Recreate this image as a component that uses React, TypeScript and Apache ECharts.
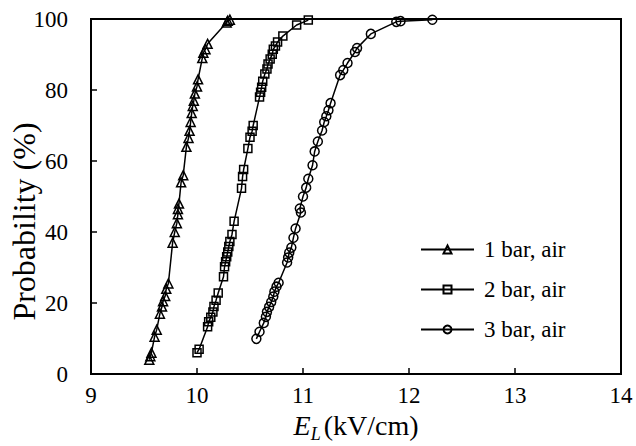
import React, { useEffect, useRef } from "react";
import * as echarts from "echarts";

const seriesNames = ["1 bar, air", "2 bar, air", "3 bar, air"];
const symbols = ["triangle", "rect", "circle"];
const symbolSizes = [9, 8, 9];

const bar1: [number, number][] = [
  [9.55, 4], [9.56, 5], [9.57, 6], [9.6, 10.5], [9.62, 12.5], [9.65, 17], [9.67, 19],
  [9.68, 20.5], [9.7, 22], [9.71, 24], [9.73, 25.5], [9.77, 37], [9.79, 40], [9.81, 42.5],
  [9.82, 45], [9.82, 46.5], [9.83, 48], [9.85, 54], [9.87, 56], [9.9, 64], [9.92, 66.5],
  [9.93, 68.5], [9.94, 71], [9.95, 73.5], [9.96, 75.5], [9.97, 77], [9.98, 79], [10.0, 81],
  [10.01, 83], [10.05, 89], [10.06, 90.5], [10.08, 91.5], [10.1, 93], [10.28, 99],
  [10.29, 99.5], [10.31, 99.8],
];

const bar2: [number, number][] = [
  [10.0, 6], [10.02, 7], [10.1, 13.3], [10.11, 14.7], [10.13, 16], [10.15, 17.5], [10.16, 19],
  [10.18, 20.8], [10.2, 22.8], [10.25, 27.4], [10.26, 30.2], [10.27, 31.6], [10.28, 33],
  [10.29, 34.4], [10.3, 35.9], [10.31, 37.3], [10.33, 39.3], [10.35, 43], [10.42, 52.3],
  [10.43, 55.6], [10.44, 57.6], [10.48, 63.5], [10.5, 66.7], [10.52, 68.4], [10.53, 70],
  [10.59, 78], [10.6, 79.4], [10.61, 80.8], [10.62, 82.5], [10.64, 84.5], [10.66, 85.9],
  [10.67, 87.3], [10.69, 88.7], [10.71, 90.1], [10.72, 91.5], [10.74, 92.4], [10.76, 93.5],
  [10.81, 95.2], [10.94, 98.3], [11.05, 99.7],
];

const bar3: [number, number][] = [
  [10.56, 9.9], [10.59, 11.9], [10.63, 14.4], [10.65, 16.1], [10.66, 17.5], [10.68, 18.9],
  [10.7, 20.3], [10.72, 21.8], [10.73, 23.2], [10.75, 24.6], [10.77, 25.7], [10.85, 31.4],
  [10.86, 32.8], [10.87, 34.2], [10.89, 35.6], [10.91, 38.4], [10.93, 41], [10.98, 45.5],
  [10.97, 46.6], [11.0, 50], [11.03, 52.5], [11.05, 55], [11.09, 58.8], [11.11, 62.7],
  [11.14, 65.5], [11.18, 68.6], [11.2, 71], [11.22, 72.6], [11.24, 74.3], [11.26, 76.3],
  [11.35, 84.2], [11.38, 85.6], [11.42, 87.6], [11.49, 90.7], [11.51, 91.8], [11.64, 95.8],
  [11.88, 99.2], [11.92, 99.4], [12.22, 99.8],
];

const allData = [bar1, bar2, bar3];
const xTicks = { min: 9, max: 14, interval: 1 };
const yTicks = { min: 0, max: 100, interval: 20 };

const FONT = "Liberation Serif";

export default function App() {
  const ref = useRef<HTMLDivElement>(null);
  useEffect(() => {
    if (!ref.current) return;
    const chart = echarts.init(ref.current, undefined, { renderer: "svg" });
    chart.setOption({
      animation: false,
      backgroundColor: "#fff",
      textStyle: { fontFamily: FONT, color: "#000" },
      grid: {
        left: 91, right: 15, top: 19, bottom: 72,
        outerBoundsMode: "none",
        containLabel: false,
        show: true, borderColor: "#000", borderWidth: 2, backgroundColor: "transparent",
      },
      legend: {
        orient: "vertical",
        left: 415,
        top: 233,
        itemWidth: 53,
        itemHeight: 10,
        itemGap: 17,
        data: seriesNames,
        textStyle: { fontFamily: FONT, fontSize: 23, color: "#000", padding: [0, 0, 0, 5] },
      },
      xAxis: {
        type: "value",
        min: xTicks.min, max: xTicks.max, interval: xTicks.interval,
        name: "{i|E}{s|L} {n|(kV/cm)}",
        nameLocation: "middle",
        nameGap: 37,
        nameMoveOverlap: false,
        nameTextStyle: {
          fontFamily: FONT,
          rich: {
            i: { fontFamily: FONT, fontSize: 28, fontStyle: "italic", color: "#000", verticalAlign: "bottom", lineHeight: 28 },
            s: { fontFamily: FONT, fontSize: 18, fontStyle: "italic", color: "#000", verticalAlign: "bottom", lineHeight: 18, padding: [0, 0, -4, 0] },
            n: { fontFamily: FONT, fontSize: 28, color: "#000", verticalAlign: "bottom", lineHeight: 28 },
          },
        },
        axisLine: { show: true, lineStyle: { color: "#000", width: 2 } },
        axisTick: { show: true, inside: true, length: 6, lineStyle: { color: "#000", width: 1.5 } },
        axisLabel: { fontFamily: FONT, fontSize: 23, color: "#000", margin: 10 },
        splitLine: { show: false },
      },
      yAxis: {
        type: "value",
        min: yTicks.min, max: yTicks.max, interval: yTicks.interval,
        name: "Probability (%)",
        nameLocation: "middle",
        nameGap: 51,
        nameMoveOverlap: false,
        nameTextStyle: { fontFamily: FONT, fontSize: 32, color: "#000", padding: [0, 50, 0, 0] },
        axisLine: { show: true, lineStyle: { color: "#000", width: 2 } },
        axisTick: { show: true, inside: true, length: 6, lineStyle: { color: "#000", width: 1.5 } },
        axisLabel: { fontFamily: FONT, fontSize: 23, color: "#000", margin: 23 },
        splitLine: { show: false },
      },
      series: allData.map((d, i) => ({
        name: seriesNames[i],
        type: "line",
        data: d,
        symbol: symbols[i],
        symbolSize: symbolSizes[i],
        showAllSymbol: true,
        color: "#000",
        lineStyle: { color: "#000", width: 1.5 },
        itemStyle: { color: "rgba(255,255,255,0)", borderColor: "#000", borderWidth: 1.5 },
      })),
    });
    return () => chart.dispose();
  }, []);
  return <div ref={ref} style={{ width: 636, height: 446, position: "absolute", left: 0, top: 0 }} />;
}
